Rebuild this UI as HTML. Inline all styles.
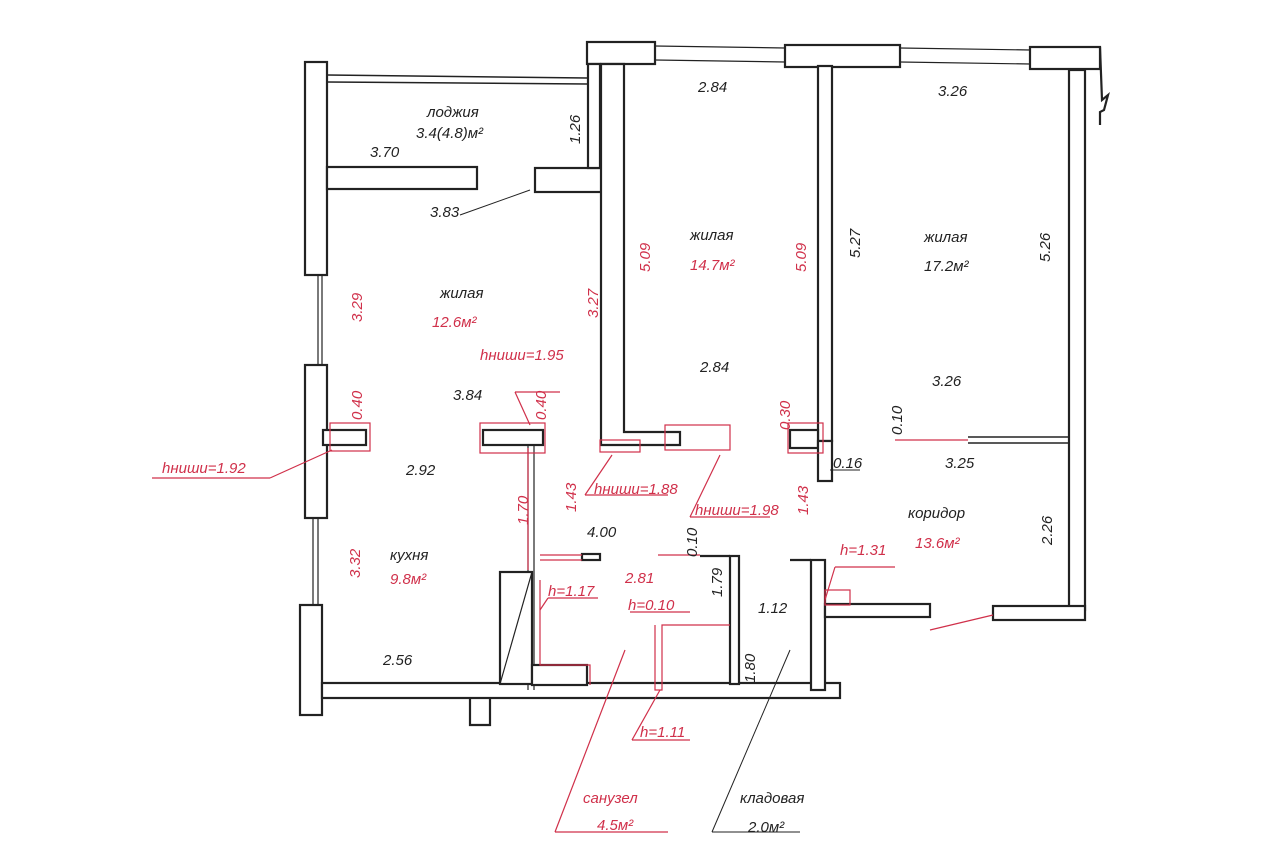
<!DOCTYPE html>
<html><head><meta charset="utf-8"><style>
html,body{margin:0;padding:0;background:#fff;}
svg{display:block}
text{font-family:"Liberation Sans",sans-serif;font-style:italic;font-size:15px;}
.k{fill:#222}
.r{fill:#d0304a}
</style></head><body>
<svg width="1280" height="853" viewBox="0 0 1280 853">
<g fill="#fff" stroke="#222" stroke-width="2.2">
<!-- left exterior -->
<rect x="305" y="62" width="22" height="213"/>
<rect x="305" y="365" width="22" height="153"/>
<rect x="300" y="605" width="22" height="110"/>
<line x1="318" y1="275" x2="318" y2="365" stroke-width="1.2"/>
<line x1="322" y1="275" x2="322" y2="365" stroke-width="1.2"/>
<line x1="313" y1="518" x2="313" y2="605" stroke-width="1.2"/>
<line x1="318" y1="518" x2="318" y2="605" stroke-width="1.2"/>
<!-- loggia rail -->
<line x1="327" y1="75" x2="587" y2="78" stroke-width="1.5"/>
<line x1="327" y1="82" x2="587" y2="84" stroke-width="1.5"/>
<rect x="327" y="167" width="150" height="22"/>
<rect x="535" y="168" width="68" height="24"/>
<!-- top blocks -->
<rect x="587" y="42" width="68" height="22"/>
<rect x="785" y="45" width="115" height="22"/>
<rect x="1030" y="47" width="70" height="22"/>
<line x1="655" y1="46" x2="785" y2="48" stroke-width="1.2"/>
<line x1="655" y1="60" x2="785" y2="62" stroke-width="1.2"/>
<line x1="900" y1="48" x2="1030" y2="50" stroke-width="1.2"/>
<line x1="900" y1="62" x2="1030" y2="64" stroke-width="1.2"/>
<polyline points="1100,47 1102,100 1108,95 1104,110 1100,112 1100,125" fill="none"/>
<!-- bedroom1 left wall -->
<rect x="588" y="64" width="12" height="104"/>
<polygon points="601,64 624,64 624,432 680,432 680,445 601,445"/>
<!-- wall between bedrooms -->
<rect x="818" y="66" width="14" height="375"/>
<!-- right wall -->
<rect x="1069" y="70" width="16" height="540"/>
<rect x="993" y="606" width="92" height="14"/>
<!-- corridor hz thin wall -->
<line x1="968" y1="437" x2="1069" y2="437" stroke-width="1.5"/>
<line x1="968" y1="443" x2="1069" y2="443" stroke-width="1.5"/>
<!-- small stubs -->
<rect x="790" y="430" width="28" height="18"/>
<rect x="818" y="441" width="14" height="40"/>
<rect x="323" y="430" width="43" height="15"/>
<rect x="483" y="430" width="60" height="15"/>
<!-- bottom wall -->
<rect x="322" y="683" width="518" height="15"/>
<polyline points="470,698 470,725 490,725 490,698" fill="none"/>
<!-- storage walls -->
<rect x="811" y="560" width="14" height="130"/>
<rect x="825" y="604" width="105" height="13"/>
<line x1="790" y1="560" x2="811" y2="560"/>
<rect x="730" y="556" width="9" height="128"/>
<line x1="700" y1="556" x2="730" y2="556"/>
<!-- kitchen partition -->
<line x1="528" y1="445" x2="528" y2="690" stroke-width="1.2"/>
<line x1="534" y1="445" x2="534" y2="690" stroke-width="1.2"/>
<rect x="500" y="572" width="32" height="112"/>
<line x1="500" y1="684" x2="532" y2="572" stroke-width="1.2"/>
<rect x="532" y="665" width="55" height="20"/>
<rect x="582" y="554" width="18" height="6"/>
</g>
<!-- red markings -->
<g fill="none" stroke="#d0304a" stroke-width="1.2">
<rect x="330" y="423" width="40" height="28"/>
<rect x="480" y="423" width="65" height="30"/>
<rect x="600" y="440" width="40" height="12"/>
<rect x="665" y="425" width="65" height="25"/>
<rect x="788" y="423" width="35" height="30"/>
<line x1="528" y1="448" x2="528" y2="570"/>
<line x1="540" y1="555" x2="582" y2="555"/>
<line x1="540" y1="560" x2="582" y2="560"/>
<line x1="658" y1="555" x2="700" y2="555"/>
<line x1="895" y1="440" x2="968" y2="440"/>
<polyline points="540,580 540,665 590,665 590,685"/>
<polyline points="655,625 655,690 662,690 662,625 730,625"/>
<line x1="152" y1="478" x2="270" y2="478"/>
<line x1="270" y1="478" x2="332" y2="450"/>
<line x1="515" y1="392" x2="560" y2="392"/>
<line x1="515" y1="392" x2="530" y2="425"/>
<line x1="585" y1="495" x2="668" y2="495"/>
<line x1="585" y1="495" x2="612" y2="455"/>
<line x1="690" y1="517" x2="770" y2="517"/>
<line x1="690" y1="517" x2="720" y2="455"/>
<line x1="835" y1="567" x2="895" y2="567"/>
<line x1="835" y1="567" x2="825" y2="600"/>
<rect x="825" y="590" width="25" height="15"/>
<line x1="540" y1="610" x2="548" y2="598"/>
<line x1="548" y1="598" x2="598" y2="598"/>
<line x1="632" y1="740" x2="690" y2="740"/>
<line x1="632" y1="740" x2="660" y2="690"/>
<line x1="555" y1="832" x2="668" y2="832"/>
<line x1="555" y1="832" x2="625" y2="650"/>
<line x1="930" y1="630" x2="993" y2="615"/>
<line x1="630" y1="612" x2="690" y2="612"/>
</g>
<g stroke="#222" stroke-width="1" fill="none">
<line x1="460" y1="215" x2="530" y2="190"/>
<line x1="712" y1="832" x2="790" y2="650"/>
<line x1="712" y1="832" x2="800" y2="832"/>
<line x1="830" y1="470" x2="860" y2="470"/>
</g>
<!-- black labels -->
<g class="k">
<text x="427" y="117">лоджия</text>
<text x="416" y="138">3.4(4.8)м²</text>
<text x="370" y="157">3.70</text>
<text x="430" y="217">3.83</text>
<text x="698" y="92">2.84</text>
<text x="938" y="96">3.26</text>
<text x="690" y="240">жилая</text>
<text x="924" y="242">жилая</text>
<text x="924" y="271">17.2м²</text>
<text x="440" y="298">жилая</text>
<text x="700" y="372">2.84</text>
<text x="932" y="386">3.26</text>
<text x="453" y="400">3.84</text>
<text x="406" y="475">2.92</text>
<text x="945" y="468">3.25</text>
<text x="833" y="468">0.16</text>
<text x="908" y="518">коридор</text>
<text x="587" y="537">4.00</text>
<text x="390" y="560">кухня</text>
<text x="758" y="613">1.12</text>
<text x="383" y="665">2.56</text>
<text x="740" y="803">кладовая</text>
<text x="748" y="832">2.0м²</text>
<text transform="translate(580,144) rotate(-90)">1.26</text>
<text transform="translate(860,258) rotate(-90)">5.27</text>
<text transform="translate(1050,262) rotate(-90)">5.26</text>
<text transform="translate(1052,545) rotate(-90)">2.26</text>
<text transform="translate(722,597) rotate(-90)">1.79</text>
<text transform="translate(755,683) rotate(-90)">1.80</text>
<text transform="translate(697,557) rotate(-90)">0.10</text>
<text transform="translate(902,435) rotate(-90)">0.10</text>
</g>
<g class="r">
<text x="690" y="270">14.7м²</text>
<text x="432" y="327">12.6м²</text>
<text x="480" y="360">hниши=1.95</text>
<text x="162" y="473">hниши=1.92</text>
<text x="594" y="494">hниши=1.88</text>
<text x="695" y="515">hниши=1.98</text>
<text x="915" y="548">13.6м²</text>
<text x="840" y="555">h=1.31</text>
<text x="390" y="584">9.8м²</text>
<text x="625" y="583">2.81</text>
<text x="548" y="596">h=1.17</text>
<text x="628" y="610">h=0.10</text>
<text x="640" y="737">h=1.11</text>
<text x="583" y="803">санузел</text>
<text x="597" y="830">4.5м²</text>
<text transform="translate(650,272) rotate(-90)">5.09</text>
<text transform="translate(806,272) rotate(-90)">5.09</text>
<text transform="translate(598,318) rotate(-90)">3.27</text>
<text transform="translate(362,322) rotate(-90)">3.29</text>
<text transform="translate(362,420) rotate(-90)">0.40</text>
<text transform="translate(546,420) rotate(-90)">0.40</text>
<text transform="translate(790,430) rotate(-90)">0.30</text>
<text transform="translate(360,578) rotate(-90)">3.32</text>
<text transform="translate(528,525) rotate(-90)">1.70</text>
<text transform="translate(576,512) rotate(-90)">1.43</text>
<text transform="translate(808,515) rotate(-90)">1.43</text>
</g>
</svg>
</body></html>
